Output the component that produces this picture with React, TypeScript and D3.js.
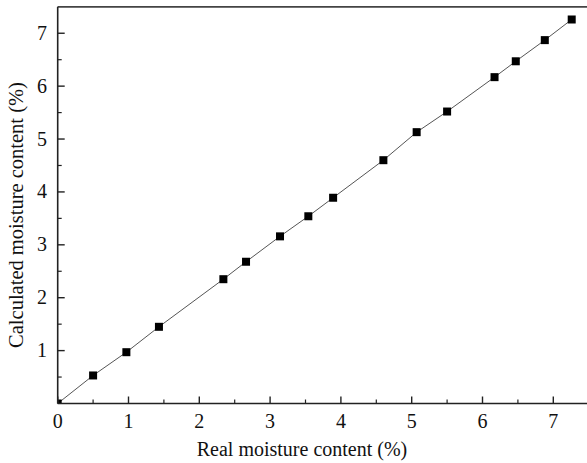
import React from "react";
import * as d3 from "d3";

const realMoisture = [0, 0.5, 0.97, 1.43, 2.34, 2.66, 3.14, 3.54, 3.89, 4.6, 5.07, 5.5, 6.17, 6.47, 6.88, 7.26];
const calcMoisture = [0, 0.53, 0.97, 1.45, 2.35, 2.68, 3.16, 3.54, 3.89, 4.6, 5.13, 5.52, 6.17, 6.47, 6.87, 7.26];
const xTicks = [0, 1, 2, 3, 4, 5, 6, 7];
const yTicks = [1, 2, 3, 4, 5, 6, 7];
const xLabel = "Real moisture content (%)";
const yLabel = "Calculated moisture content (%)";

const W = 587;
const H = 463;
const left = 57.7;
const right = 588.7;
const bottom = 403.5;
const top = 6.8;
const font = "'Liberation Serif', 'Times New Roman', serif";

export default function App() {
  const x = d3.scaleLinear().domain([0, 7.5]).range([left, right]);
  const y = d3.scaleLinear().domain([0, 7.5]).range([bottom, top]);
  const pts = realMoisture.map((v, i) => [v, calcMoisture[i]] as [number, number]);
  const line = d3.line<[number, number]>().x((d) => x(d[0])).y((d) => y(d[1]))(pts) || "";
  const minorX = d3.range(0.5, 7.5, 1);
  const minorY = d3.range(0.5, 7.5, 1);
  const ms = 8;
  return (
    <svg width={W} height={H} style={{ position: "absolute", left: 0, top: 0, background: "#fff" }}>
      <defs>
        <clipPath id="plot">
          <rect x={left} y={top} width={right - left} height={bottom - top} />
        </clipPath>
      </defs>
      <g clipPath="url(#plot)">
        <path d={line} fill="none" stroke="#555" strokeWidth={1} />
        {pts.map((d, i) => (
          <rect key={i} x={x(d[0]) - ms / 2} y={y(d[1]) - ms / 2} width={ms} height={ms} fill="#000" />
        ))}
      </g>
      <line x1={left} x2={right} y1={top} y2={top} stroke="#444" strokeWidth={1.8} />
      <line x1={left} x2={right} y1={bottom} y2={bottom} stroke="#222" strokeWidth={1.6} />
      <line x1={left} x2={left} y1={bottom} y2={top} stroke="#222" strokeWidth={1.6} />
      {xTicks.map((t) => (
        <g key={"x" + t}>
          <line x1={x(t)} x2={x(t)} y1={bottom} y2={bottom - 7} stroke="#222" strokeWidth={1.4} />
          <text x={x(t)} y={428} textAnchor="middle" fontFamily={font} fontSize={20} fill="#111">{t}</text>
        </g>
      ))}
      {minorX.map((t) => (
        <line key={"mx" + t} x1={x(t)} x2={x(t)} y1={bottom} y2={bottom - 4} stroke="#222" strokeWidth={1.2} />
      ))}
      {yTicks.map((t) => (
        <g key={"y" + t}>
          <line x1={left} x2={left + 7} y1={y(t)} y2={y(t)} stroke="#222" strokeWidth={1.4} />
          <text x={47} y={y(t) + 6.5} textAnchor="end" fontFamily={font} fontSize={20} fill="#111">{t}</text>
        </g>
      ))}
      {minorY.map((t) => (
        <line key={"my" + t} x1={left} x2={left + 4} y1={y(t)} y2={y(t)} stroke="#222" strokeWidth={1.2} />
      ))}
      <text x={302} y={456} textAnchor="middle" fontFamily={font} fontSize={20} fill="#111">{xLabel}</text>
      <text transform={`translate(23, 215) rotate(-90)`} textAnchor="middle" fontFamily={font} fontSize={20.5} fill="#111">{yLabel}</text>
    </svg>
  );
}
